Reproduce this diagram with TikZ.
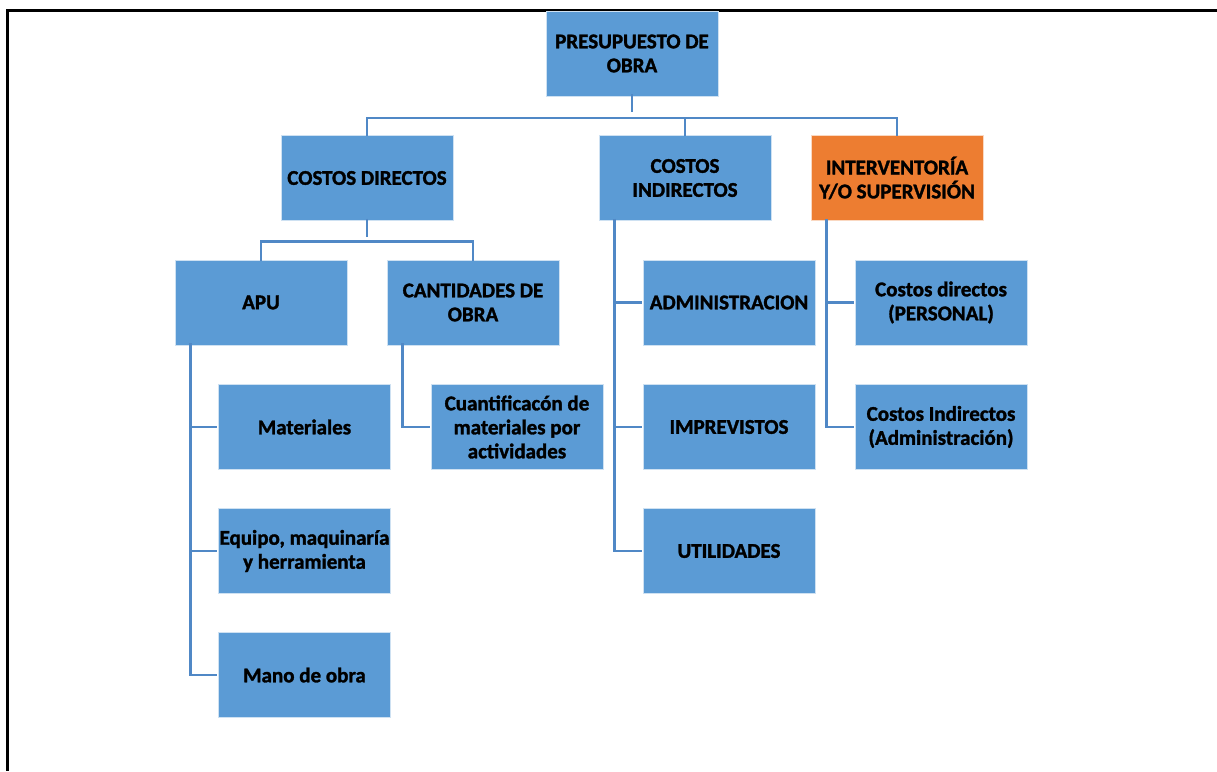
\documentclass[tikz,border=0pt]{standalone}
\usepackage{fontspec}
\setmainfont{Carlito}[BoldFeatures={FakeBold=1.5}]
\definecolor{boxblue}{RGB}{91,155,213}
\definecolor{boxorange}{RGB}{237,125,49}
\definecolor{connblue}{RGB}{80,136,198}
\tikzset{
  box/.style={draw=white!70!boxblue, line width=0.8pt, fill=boxblue, minimum width=172pt, minimum height=85pt, inner sep=0pt, align=center, font=\fontsize{21}{24}\selectfont\bfseries, text=black},
  conn/.style={draw=connblue, line width=2.6pt},
}
\begin{document}
\begin{tikzpicture}[x=1pt,y=-1pt]
\useasboundingbox (0,0) rectangle (1217,771);
\draw[line width=3pt, black] (1217,10) -- (7,10) -- (7,771);
% nodes
\node[box] (top) at (632,53.5) {PRESUPUESTO DE\\OBRA};
\node[box] (cd) at (367,178) {COSTOS DIRECTOS};
\node[box] (cid) at (685,178) {COSTOS\\INDIRECTOS};
\node[box, fill=boxorange, draw=white!70!boxorange] (int) at (897,178) {INTERVENTORÍA\\Y/O SUPERVISIÓN};
\node[box] (apu) at (261,302.5) {APU};
\node[box] (cant) at (473,302.5) {CANTIDADES DE\\OBRA};
\node[box] (mat) at (304.5,427) {Materiales};
\node[box] (equ) at (304.5,551) {Equipo, maquinaría\\y herramienta};
\node[box] (mano) at (304.5,675) {Mano de obra};
\node[box] (cuan) at (517,427) {Cuantificacón de\\materiales por\\actividades};
\node[box] (adm) at (729,302.5) {ADMINISTRACION};
\node[box] (imp) at (729,427) {IMPREVISTOS};
\node[box] (uti) at (729,551) {UTILIDADES};
\node[box] (cdp) at (941,302.5) {Costos directos\\(PERSONAL)};
\node[box] (cia) at (941,427) {Costos Indirectos\\(Administración)};
% connectors level 1
\draw[conn] ([yshift=2pt]top.south) -- ++(0,18);
\draw[conn] ([yshift=-1pt]cd.north) -- ++(0,-18) -| ([yshift=-1pt]int.north);
\draw[conn] ([yshift=-1pt]cid.north) -- ++(0,-18);
% costos directos
\draw[conn] ([yshift=2pt]cd.south) -- ++(0,18);
\draw[conn] ([yshift=-1pt]apu.north) -- ++(0,-19) -| ([yshift=-1pt]cant.north);
% APU
\draw[conn] ([xshift=16pt,yshift=2pt]apu.south west) |- ([xshift=-1pt]mano.west);
\draw[conn] ([xshift=16pt]apu.south west |- mat.west) -- ([xshift=-1pt]mat.west);
\draw[conn] ([xshift=16pt]apu.south west |- equ.west) -- ([xshift=-1pt]equ.west);
% cantidades
\draw[conn] ([xshift=16pt,yshift=2pt]cant.south west) |- ([xshift=-1pt]cuan.west);
% costos indirectos
\draw[conn] ([xshift=16pt,yshift=2pt]cid.south west) |- ([xshift=-1pt]uti.west);
\draw[conn] ([xshift=16pt]cid.south west |- adm.west) -- ([xshift=-1pt]adm.west);
\draw[conn] ([xshift=16pt]cid.south west |- imp.west) -- ([xshift=-1pt]imp.west);
% interventoria
\draw[conn] ([xshift=16pt,yshift=2pt]int.south west) |- ([xshift=-1pt]cia.west);
\draw[conn] ([xshift=16pt]int.south west |- cdp.west) -- ([xshift=-1pt]cdp.west);
\end{tikzpicture}
\end{document}
